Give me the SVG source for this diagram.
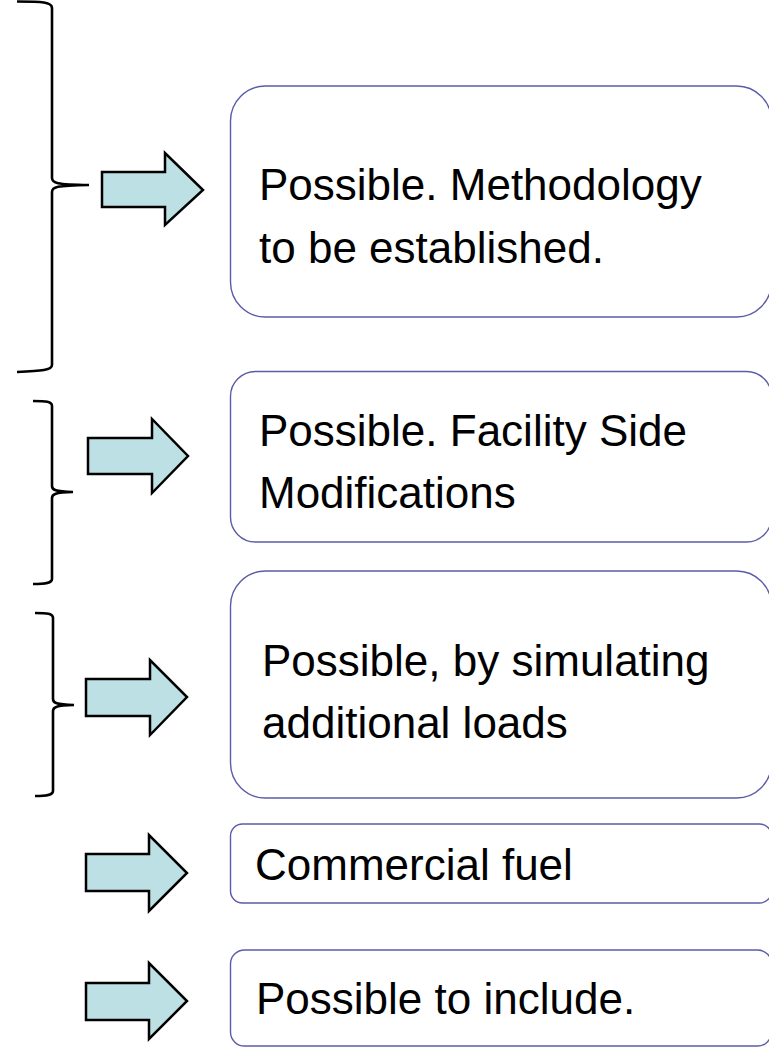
<svg xmlns="http://www.w3.org/2000/svg" width="769" height="1052" viewBox="0 0 769 1052">
<style>
.box{fill:#ffffff;stroke:#5b5ba8;stroke-width:1.4}
.arrow{fill:#bce0e3;stroke:#000000;stroke-width:2.5;stroke-linejoin:miter}
.brace{fill:none;stroke:#000000;stroke-width:2.6;stroke-linecap:butt}
.t{font-family:"Liberation Sans",Arial,sans-serif;font-size:44px;fill:#000000}
</style>
<rect width="769" height="1052" fill="#ffffff"/>
<g id="connectors">
<path class="brace" d="M17,1.5 C42,1.5 52,2 52,8 L52,178 C52,183 56,184.5 89,185 C56,185.5 52,187 52,192 L52,365 C52,370 42,371 17,372"/>
<path class="brace" d="M33,401 C46,401 52,401.5 52,406 L52,486 C52,490 55,491.5 73,492 C55,492.5 52,494 52,498 L52,579 C52,583 46,584 33,584"/>
<path class="brace" d="M35,613 C47,613 53,613.5 53,618 L53,699 C53,703 56,704.5 74,705 C56,705.5 53,707 53,711 L53,791 C53,795 47,796 35,796"/>
<polygon class="arrow" points="102,172 165,172 165,153 203,190 165,225 165,207 102,207"/>
<polygon class="arrow" points="88,438 152,438 152,419 188,456 152,493 152,474 88,474"/>
<polygon class="arrow" points="86,679 150,679 150,660 187,697 150,735 150,716 86,716"/>
<polygon class="arrow" points="86,854 149,854 149,835 187,873 149,911 149,891 86,891"/>
<polygon class="arrow" points="86,983 149,983 149,963 187,1001 149,1039 149,1020 86,1020"/>
</g>
<g id="node1">
<rect class="box" x="230.5" y="86" width="541" height="231" rx="35" ry="35"/>
<text class="t" x="259" y="200">Possible. Methodology</text>
<text class="t" x="259" y="263">to be established.</text>
</g>
<g id="node2">
<rect class="box" x="230.5" y="371.5" width="541" height="170.5" rx="25" ry="25"/>
<text class="t" x="259" y="446">Possible. Facility Side</text>
<text class="t" x="259" y="508">Modifications</text>
</g>
<g id="node3">
<rect class="box" x="230.5" y="571" width="541" height="227" rx="35" ry="35"/>
<text class="t" x="262" y="676">Possible, by simulating</text>
<text class="t" x="262" y="738">additional loads</text>
</g>
<g id="node4">
<rect class="box" x="230.5" y="824" width="541" height="79" rx="12" ry="12"/>
<text class="t" x="255" y="880">Commercial fuel</text>
</g>
<g id="node5">
<rect class="box" x="230.5" y="950" width="541" height="96" rx="14" ry="14"/>
<text class="t" x="256" y="1014">Possible to include.</text>
</g>
</svg>
